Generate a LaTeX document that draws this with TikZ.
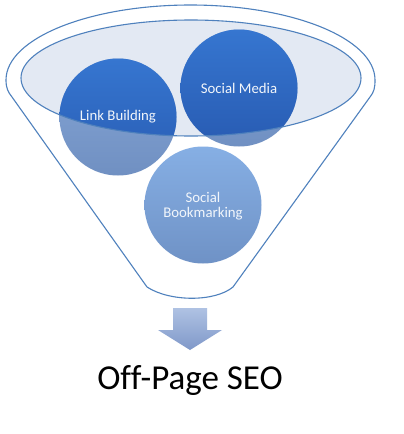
\documentclass[tikz,border=0pt]{standalone}
\usepackage{fontspec}
\setmainfont{Carlito}
\definecolor{funnelline}{HTML}{4F81BD}
\definecolor{innerfill}{HTML}{E3E9F3}
\definecolor{darktop}{HTML}{3676D0}
\definecolor{darkbot}{HTML}{285BB2}
\definecolor{lighttop}{HTML}{86A6D6}
\definecolor{lightbot}{HTML}{7090C2}
\definecolor{sbtop}{HTML}{86AFE4}
\definecolor{sbbot}{HTML}{6F92C6}
\definecolor{arrowtop}{HTML}{AFC2E3}
\definecolor{arrowbot}{HTML}{7F98C9}
\definecolor{circtext}{HTML}{F2F6FB}
\tikzset{
  funnel/.style={draw=funnelline, line width=1.1pt},
  ball/.style={circle, minimum size=117pt, inner sep=0pt},
  balltext/.style={text=circtext, font=\fontsize{14.8}{15}\selectfont, align=center},
}
\begin{document}
\begin{tikzpicture}[x=1pt,y=-1pt]
\useasboundingbox (0,0) rectangle (404,434);
\fill[white] (0,0) rectangle (404,434);
% funnel body
\draw[funnel] (6,80) arc[start angle=180, end angle=360, x radius=184.5, y radius=75]
  .. controls (375,88) and (374,92) .. (370,97) -- (233,287)
  .. controls (215,302) and (170,302) .. (147,287) -- (12,97)
  .. controls (8,92) and (6,88) .. cycle;
% inner ellipse fill
\fill[innerfill] (191,78) ellipse[x radius=170, y radius=58];
% circles (light parts)
\node[ball, top color=lighttop, bottom color=lightbot] (lbc) at (118,117) {};
\node[ball, top color=lighttop, bottom color=lightbot] (smc) at (239,88) {};
\node[ball, top color=sbtop, bottom color=sbbot] (sbc) at (203,205) {};
% dark parts inside ellipse
\begin{scope}
  \clip (191,78) ellipse[x radius=170, y radius=58];
  \shade[top color=darktop, bottom color=darkbot] (lbc.center) circle[radius=58.5];
  \shade[top color=darktop, bottom color=darkbot] (smc.center) circle[radius=58.5];
\end{scope}
% ellipse outline
\draw[funnel] (191,78) ellipse[x radius=170, y radius=58];
% labels
\node[balltext] (lbt) at (lbc.center) {Link Building};
\node[balltext] (smt) at (smc.center) {Social Media};
\node[balltext] (sbt) at ([yshift=-1pt]sbc.center) {Social\\Bookmarking};
% arrow
\shade[top color=arrowtop, bottom color=arrowbot] (173,308) -- (207,308) -- (207,330)
  -- (222,330) -- (190,350) -- (158,330) -- (173,330) -- cycle;
\node (seo) at (190,381) {\fontsize{35}{40}\selectfont\addfontfeatures{Ligatures=NoCommon}Off-Page SEO};
\end{tikzpicture}
\end{document}
